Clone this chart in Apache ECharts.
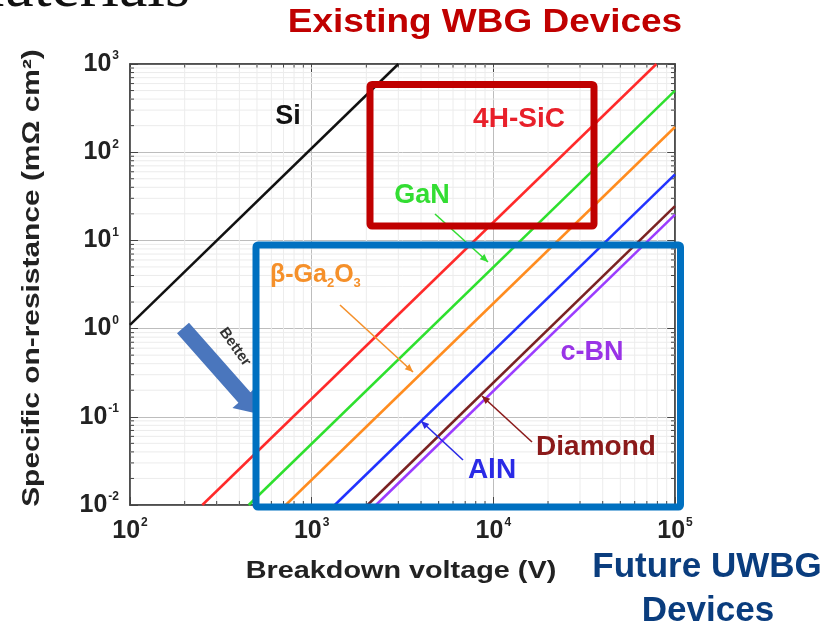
<!DOCTYPE html>
<html><head><meta charset="utf-8">
<script src="https://cdn.jsdelivr.net/npm/echarts@6/dist/echarts.min.js"></script>
<style>html,body{margin:0;padding:0;background:#fff}#c{width:840px;height:629px}</style>
</head><body><div id="c"></div>
<script>
// ---- data ----
const xRange = [100, 100000];            // breakdown voltage (V)
const yRange = [0.01, 1000];             // specific on-resistance (mΩ cm²)
const seriesNames = ['Si', '4H-SiC', 'GaN', 'β-Ga2O3', 'AlN', 'Diamond', 'c-BN'];
const siLine      = [[100, 1.1],   [3000, 1000]];
const sicLine     = [[250, 0.01],  [79000, 1000]];
const ganLine     = [[450, 0.01],  [100000, 500]];
const ga2o3Line   = [[720, 0.01],  [100000, 193]];
const alnLine     = [[1340, 0.01], [100000, 56]];
const diamondLine = [[2030, 0.01], [100000, 24.5]];
const cbnLine     = [[2260, 0.01], [100000, 19.6]];
const lineColors  = ['#111111', '#ff2a2a', '#2ee02e', '#ff8c1f', '#2233ff', '#7a2222', '#9b3cff'];

const chart = echarts.init(document.getElementById('c'), null, {renderer: 'canvas'});

function minorList(lo, hi) {
  const out = [];
  for (let d = lo; d < hi; d *= 10) for (let k = 2; k <= 9; k++) out.push(d * k);
  return out;
}
const xMinor = minorList(xRange[0], xRange[1]);
const yMinor = minorList(yRange[0], yRange[1]);

const tickFmt = v => {
  const e = Math.round(Math.log10(v));
  return '{b|10}{s|' + e + '}';
};
const tickRich = {
  b: {fontSize: 25, fontWeight: 'bold', color: '#222', fontFamily: 'Liberation Sans', lineHeight: 28},
  s: {fontSize: 12, fontWeight: 'bold', color: '#222', fontFamily: 'Liberation Sans', verticalAlign: 'top', lineHeight: 14, padding: [0, 0, 0, 1]}
};

const frame = {color: '#444', width: 1.5};
const xAxisBase = {type: 'log', logBase: 10, min: xRange[0], max: xRange[1]};
const yAxisBase = {type: 'log', logBase: 10, min: yRange[0], max: yRange[1]};

function minorSeries(vals, isX) {
  return {
    type: 'custom', coordinateSystem: 'cartesian2d', silent: true, z: 1, clip: false,
    data: vals.map(v => isX ? [v, yRange[0]] : [xRange[0], v]),
    renderItem: (params, api) => {
      const v = api.value(isX ? 0 : 1);
      let a, b;
      if (isX) { a = api.coord([v, yRange[0]]); b = api.coord([v, yRange[1]]); }
      else { a = api.coord([xRange[0], v]); b = api.coord([xRange[1], v]); }
      const L = 4;
      const kids = [
        {type: 'line', shape: {x1: a[0], y1: a[1], x2: b[0], y2: b[1]}, style: {stroke: '#ececec', lineWidth: 1}},
      ];
      if (isX) {
        kids.push({type: 'line', shape: {x1: a[0], y1: a[1], x2: a[0], y2: a[1] - L}, style: {stroke: '#444', lineWidth: 1}});
        kids.push({type: 'line', shape: {x1: b[0], y1: b[1], x2: b[0], y2: b[1] + L}, style: {stroke: '#444', lineWidth: 1}});
      } else {
        kids.push({type: 'line', shape: {x1: a[0], y1: a[1], x2: a[0] + L, y2: a[1]}, style: {stroke: '#444', lineWidth: 1}});
        kids.push({type: 'line', shape: {x1: b[0], y1: b[1], x2: b[0] - L, y2: b[1]}, style: {stroke: '#444', lineWidth: 1}});
      }
      return {type: 'group', children: kids};
    }
  };
}

const lineData = [siLine, sicLine, ganLine, ga2o3Line, alnLine, diamondLine, cbnLine];
const lineSeries = lineData.map((d, i) => ({
  name: seriesNames[i], type: 'line', data: d, symbol: 'none', z: 5,
  lineStyle: {color: lineColors[i], width: 2.5}, clip: true
}));

// ---- annotation helpers (layout only) ----
function arrowHead(x1, y1, x2, y2, len, w) {
  const a = Math.atan2(y2 - y1, x2 - x1);
  const bx = x2 - len * Math.cos(a), by = y2 - len * Math.sin(a);
  const px = -Math.sin(a) * w / 2, py = Math.cos(a) * w / 2;
  return [[x2, y2], [bx + px, by + py], [bx - px, by - py]];
}
function pointer(x1, y1, x2, y2, color) {
  return [
    {type: 'line', z: 20, shape: {x1, y1, x2, y2}, style: {stroke: color, lineWidth: 1.6}},
    {type: 'polygon', z: 20, shape: {points: arrowHead(x1, y1, x2, y2, 8, 7)}, style: {fill: color}}
  ];
}
function label(text, x, y, color, size, extra) {
  return Object.assign({
    type: 'text', z: 20, x, y,
    style: {text, x: 0, y: 0, fill: color, font: 'bold ' + size + 'px "Liberation Sans", Arial, sans-serif',
      textAlign: 'center', textVerticalAlign: 'middle'}
  }, extra || {});
}
function bigArrow(tx, ty, hx, hy, bodyW, headW, headL) {
  const a = Math.atan2(hy - ty, hx - tx);
  const c = Math.cos(a), s = Math.sin(a);
  const nx = -s, ny = c;
  const bx = hx - headL * c, by = hy - headL * s;
  return [
    [tx + nx * bodyW / 2, ty + ny * bodyW / 2],
    [bx + nx * bodyW / 2, by + ny * bodyW / 2],
    [bx + nx * headW / 2, by + ny * headW / 2],
    [hx, hy],
    [bx - nx * headW / 2, by - ny * headW / 2],
    [bx - nx * bodyW / 2, by - ny * bodyW / 2],
    [tx - nx * bodyW / 2, ty - ny * bodyW / 2]
  ];
}

const graphics = [
  // partial title at top-left (cut off by the top edge)
  {type: 'text', z: 30, x: 190, y: -11, style: {text: 'Materials', x: 0, y: 0, fill: '#111',
    font: '64px "Liberation Serif", "DejaVu Serif", serif', textAlign: 'right', textVerticalAlign: 'middle'}},
  // header/footer
  label('Existing WBG Devices', 485, 23, '#c00000', 33, {scaleX: 1.12}),
  label('Future UWBG', 707, 567, '#0a3d7e', 35),
  label('Devices', 708, 611, '#0a3d7e', 35),
  // axis titles
  label('Breakdown voltage (V)', 401, 571, '#222', 24, {scaleX: 1.2}),
  label('Specific on-resistance (mΩ cm²)', 33, 278, '#222', 23, {rotation: Math.PI / 2, scaleX: 1.3}),
  // series labels
  label('Si', 288, 117, '#111', 27),
  label('4H-SiC', 519, 119, '#e8202a', 28),
  label('GaN', 422, 196, '#33dd33', 27),
  {type: 'text', z: 20, x: 270, y: 275, style: {
    text: '{m|β-Ga}{d|2}{m|O}{d|3}', x: 0, y: 0, textAlign: 'left', textVerticalAlign: 'middle',
    rich: {
      m: {fontSize: 25, fontWeight: 'bold', fill: '#f5902a', color: '#f5902a', fontFamily: 'Liberation Sans', lineHeight: 30},
      d: {fontSize: 13, fontWeight: 'bold', fill: '#f5902a', color: '#f5902a', fontFamily: 'Liberation Sans', verticalAlign: 'bottom', lineHeight: 14}
    }}},
  label('c-BN', 592, 353, '#9933e6', 27),
  label('Diamond', 596, 447, '#8b1a1a', 28),
  label('AlN', 492, 470, '#2a2ae6', 28),
  ...pointer(435, 214, 488, 262, '#33dd33'),
  ...pointer(340, 305, 413, 372, '#f5902a'),
  ...pointer(463, 460, 421, 421, '#2a2ae6'),
  ...pointer(532, 442, 482, 396, '#8b1a1a'),
  // "Better" arrow
  {type: 'polygon', z: 15, shape: {points: bigArrow(183, 328, 259, 414, 16, 32, 22)}, style: {fill: '#4a76bd'}},
  label('Better', 235, 347, '#333', 15, {rotation: -0.95}),
  // boxes
  {type: 'rect', z: 40, shape: {x: 370, y: 84.5, width: 224, height: 141.5, r: 2}, style: {stroke: '#c00000', lineWidth: 7, fill: null}},
  {type: 'rect', z: 40, shape: {x: 256, y: 245, width: 424.5, height: 262, r: 2}, style: {stroke: '#0070c0', lineWidth: 7, fill: null}}
];

chart.setOption({
  animation: false,
  backgroundColor: '#ffffff',
  grid: {left: 130, right: 165, top: 64, bottom: 124, show: true, borderColor: '#444', borderWidth: 1.5, backgroundColor: 'transparent'},
  xAxis: [
    Object.assign({}, xAxisBase, {
      position: 'bottom',
      axisLine: {show: true, lineStyle: frame},
      axisTick: {show: true, inside: true, length: 8, lineStyle: {color: '#444', width: 1}},
      splitLine: {show: true, lineStyle: {color: '#bdbdbd', width: 1}},
      axisLabel: {margin: 12, formatter: tickFmt, rich: tickRich}
    }),
    Object.assign({}, xAxisBase, {
      position: 'top',
      axisLine: {show: true, lineStyle: frame},
      axisTick: {show: true, inside: true, length: 8, lineStyle: {color: '#444', width: 1}},
      splitLine: {show: false}, axisLabel: {show: false}
    })
  ],
  yAxis: [
    Object.assign({}, yAxisBase, {
      position: 'left',
      axisLine: {show: true, lineStyle: frame},
      axisTick: {show: true, inside: true, length: 8, lineStyle: {color: '#444', width: 1}},
      splitLine: {show: true, lineStyle: {color: '#bdbdbd', width: 1}},
      axisLabel: {margin: 11, formatter: tickFmt, rich: tickRich}
    }),
    Object.assign({}, yAxisBase, {
      position: 'right',
      axisLine: {show: true, lineStyle: frame},
      axisTick: {show: true, inside: true, length: 8, lineStyle: {color: '#444', width: 1}},
      splitLine: {show: false}, axisLabel: {show: false}
    })
  ],
  series: [minorSeries(xMinor, true), minorSeries(yMinor, false)].concat(lineSeries),
  graphic: graphics
});
</script></body></html>
